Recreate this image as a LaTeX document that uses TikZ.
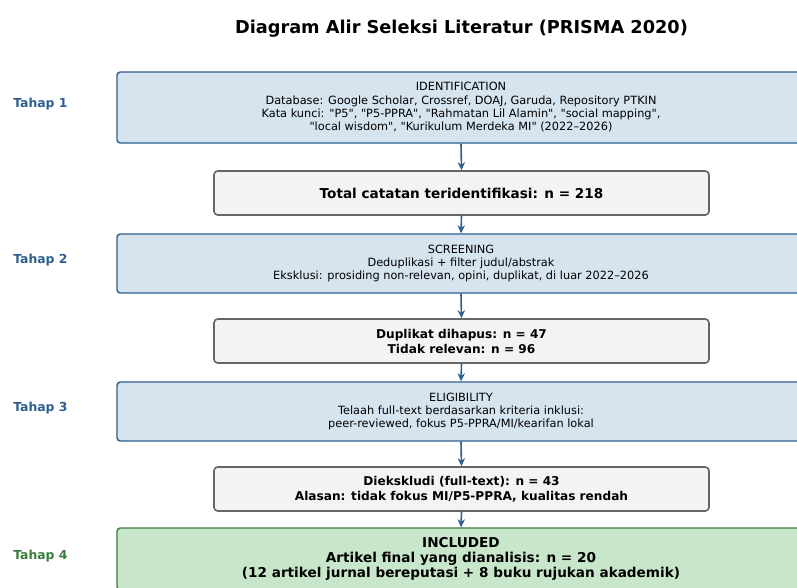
\documentclass[tikz,border=0pt]{standalone}
\usepackage{fontspec}
\setmainfont{DejaVu Sans}[Ligatures=TeXOff]
\usetikzlibrary{arrows.meta}
\definecolor{stageblue}{HTML}{D6E4F0}
\definecolor{stageblueline}{HTML}{2F5F8F}
\definecolor{grayfill}{HTML}{F3F3F3}
\definecolor{grayline}{HTML}{666666}
\definecolor{greenfill}{HTML}{C8E6C9}
\definecolor{greenline}{HTML}{3A7D3A}
\definecolor{arrowblue}{HTML}{2F5F8F}
\tikzset{
  stagebox/.style={draw=stageblueline, fill=stageblue, line width=1.1pt, rounded corners=2.5pt,
    minimum width=516pt, align=center, inner sep=0pt,
    font=\fontsize{8.5}{10}\selectfont},
  countbox/.style={draw=grayline, fill=grayfill, line width=1.2pt, rounded corners=2.8pt,
    minimum width=371.25pt, minimum height=33pt, align=center, inner sep=0pt,
    font=\fontsize{9.1}{11.25}\selectfont\bfseries},
  finalbox/.style={draw=greenline, fill=greenfill, line width=1.1pt, rounded corners=2.5pt,
    minimum width=516pt, minimum height=46.5pt, align=center, inner sep=0pt,
    font=\fontsize{10.2}{11.25}\selectfont\bfseries},
  stagelabel/.style={anchor=west, inner sep=0pt, font=\fontsize{9.3}{10}\selectfont\bfseries, text=stageblueline},
  flow/.style={draw=arrowblue, line width=1.2pt, -{Stealth[length=6pt,width=5.5pt]}},
}
\begin{document}
\begin{tikzpicture}[x=0.75pt,y=-0.75pt]
\clip (0,0) rectangle (797,587);
\fill[white] (0,0) rectangle (797,587);
\node[font=\fontsize{13.3}{15}\selectfont\bfseries, inner sep=0pt] (title) at (461.5,29) {Diagram Alir Seleksi Literatur (PRISMA 2020)};

\node[stagebox, minimum height=53.25pt] (ident) at (461,107.5) {IDENTIFICATION\\Database: Google Scholar, Crossref, DOAJ, Garuda, Repository PTKIN\\Kata kunci: "P5", "P5-PPRA", "Rahmatan Lil Alamin", "social mapping",\\"local wisdom", "Kurikulum Merdeka MI" (2022–2026)};
\node[countbox, font=\fontsize{10.2}{11.25}\selectfont\bfseries] (total) at (461.5,193) {Total catatan teridentifikasi: n = 218};
\node[stagebox, minimum height=44.25pt] (screen) at (461,263.5) {SCREENING\\Deduplikasi + filter judul/abstrak\\Eksklusi: prosiding non-relevan, opini, duplikat, di luar 2022–2026};
\node[countbox] (dup) at (461.5,341) {Duplikat dihapus: n = 47\\Tidak relevan: n = 96};
\node[stagebox, minimum height=44.25pt] (elig) at (461,411.5) {ELIGIBILITY\\Telaah full-text berdasarkan kriteria inklusi:\\peer-reviewed, fokus P5-PPRA/MI/kearifan lokal};
\node[countbox] (excl) at (461.5,489) {Diekskludi (full-text): n = 43\\Alasan: tidak fokus MI/P5-PPRA, kualitas rendah};
\node[finalbox] (incl) at (461,559) {INCLUDED\\Artikel final yang dianalisis: n = 20\\(12 artikel jurnal bereputasi + 8 buku rujukan akademik)};

\node[stagelabel] (t1) at (13,104) {Tahap 1};
\node[stagelabel] (t2) at (13,260) {Tahap 2};
\node[stagelabel] (t3) at (13,408) {Tahap 3};
\node[stagelabel, text=greenline] (t4) at (13,556) {Tahap 4};

\draw[flow] (ident.south) -- (total.north);
\draw[flow] (total.south) -- (screen.north);
\draw[flow] (screen.south) -- (dup.north);
\draw[flow] (dup.south) -- (elig.north);
\draw[flow] (elig.south) -- (excl.north);
\draw[flow] (excl.south) -- (incl.north);
\end{tikzpicture}
\end{document}
